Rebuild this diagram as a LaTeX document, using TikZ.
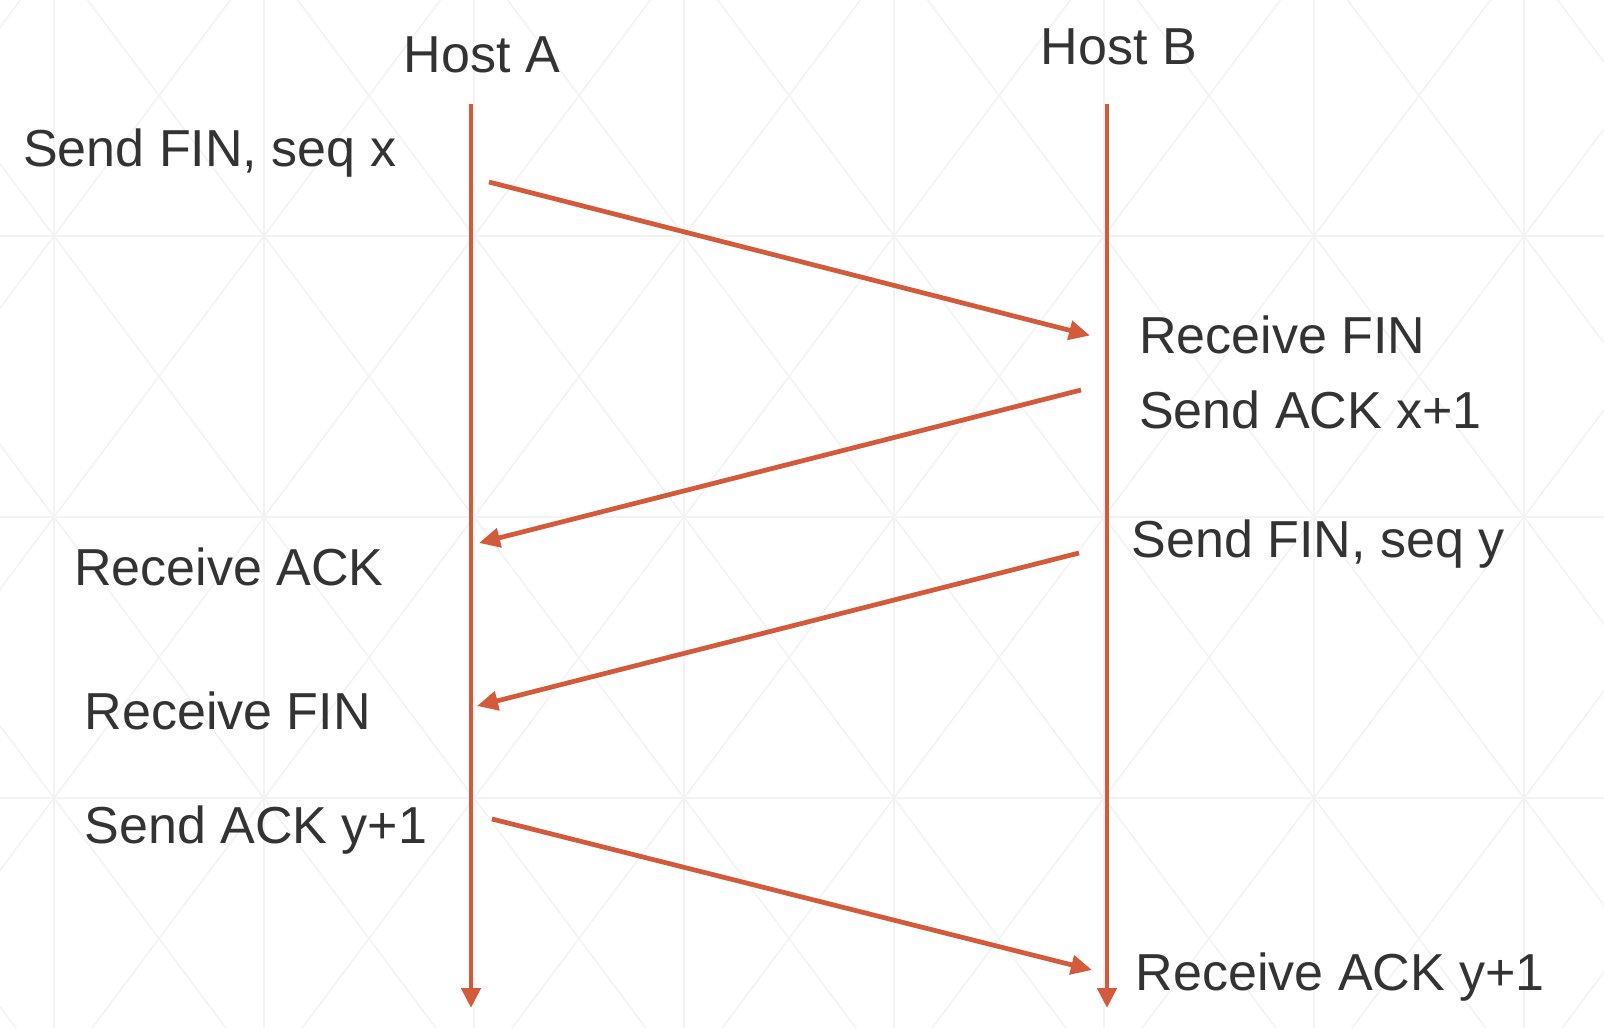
\documentclass[tikz,border=0pt]{standalone}
\usepackage{fontspec}
\setmainfont{Liberation Sans}
\usetikzlibrary{arrows.meta, positioning}
\definecolor{finred}{HTML}{D35B3C}
\definecolor{txtgray}{HTML}{333333}
\definecolor{gridgray}{HTML}{F3F3F3}

\begin{document}
\begin{tikzpicture}[
  host/.style={font=\fontsize{14.8}{18}\selectfont,text=txtgray,anchor=base,inner sep=0pt},
  lbl/.style={font=\fontsize{14.8}{18}\selectfont,text=txtgray,anchor=base west,inner sep=0pt},
  life/.style={-{Triangle[length=0.2cm,width=0.19cm]},finred,line width=1.35pt},
  msg/.style={-{Triangle[length=0.21cm,width=0.19cm]},finred,line width=1.35pt},
  bg/.style={draw=gridgray,line width=0.45pt}
]
  \useasboundingbox (0,0) rectangle (16.04,-10.28);
  % background grid
  \begin{scope}
    \clip (0,0) rectangle (16.04,-10.28);
    \foreach \y in {-2.36,-5.17,-7.98}{\draw[bg](0,\y)--(16.04,\y);}
    \foreach \k in {0,...,7}{\draw[bg](0.54+2.1*\k,0)--(0.54+2.1*\k,-10.28);}
    \foreach \k in {-6,...,13}{
      \draw[bg](0.54+2.1*\k-6.3,-2.36-8.43)--(0.54+2.1*\k+6.3,-2.36+8.43);
      \draw[bg](0.54+2.1*\k-6.3,-2.36+8.43)--(0.54+2.1*\k+6.3,-2.36-8.43);
    }
  \end{scope}

  % hosts and lifelines
  \node[host](HA) at (4.82,-0.73)  {Host A};
  \node[host](HB) at (11.19,-0.645) {Host B};
  \coordinate (A0) at (4.71,-1.04);
  \coordinate (A1) at (4.71,-10.08);
  \coordinate (B0) at (11.07,-1.04);
  \coordinate (B1) at (11.07,-10.08);
  \draw[life](A0)--(A1);
  \draw[life](B0)--(B1);

  % messages
  \coordinate (m1s) at (4.89,-1.82);
  \coordinate (m1e) at (10.90,-3.355);
  \coordinate (m2s) at (10.81,-3.90);
  \coordinate (m2e) at (4.79,-5.43);
  \coordinate (m3s) at (10.79,-5.53);
  \coordinate (m3e) at (4.77,-7.06);
  \coordinate (m4s) at (4.92,-8.19);
  \coordinate (m4e) at (10.92,-9.70);
  \draw[msg](m1s)--(m1e);
  \draw[msg](m2s)--(m2e);
  \draw[msg](m3s)--(m3e);
  \draw[msg](m4s)--(m4e);

  % labels
  \node[lbl](sA1) at (0.225,-1.67) {Send FIN, seq x};
  \node[lbl](rB1) at (11.385,-3.54) {Receive FIN};
  \node[lbl](sB1) at (11.385,-4.29) {Send ACK x+1};
  \node[lbl](sB2) at (11.31,-5.575) {Send FIN, seq y};
  \node[lbl](rA1) at (0.736,-5.85) {Receive ACK};
  \node[lbl](rA2) at (0.84,-7.29) {Receive FIN};
  \node[lbl](sA2) at (0.84,-8.435) {Send ACK y+1};
  \node[lbl](rB2) at (11.35,-9.90) {Receive ACK y+1};
\end{tikzpicture}
\end{document}
